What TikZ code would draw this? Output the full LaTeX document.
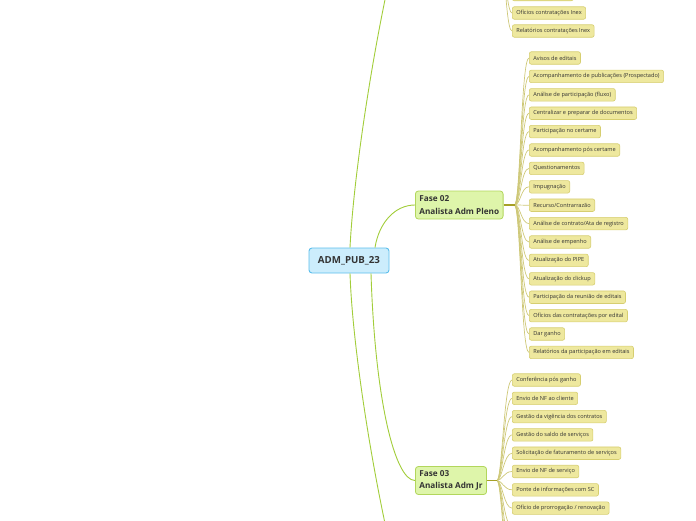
\documentclass[tikz,border=0pt]{standalone}
\usepackage{fontspec}
\setmainfont{Open Sans}
\usetikzlibrary{positioning, calc}

\definecolor{rootfill}{RGB}{204,237,252}
\definecolor{rootline}{RGB}{92,190,236}
\definecolor{fasefill}{RGB}{222,245,170}
\definecolor{faseline}{RGB}{178,214,92}
\definecolor{leaffill}{RGB}{238,232,158}
\definecolor{leafline}{RGB}{214,206,112}
\definecolor{branchcol}{RGB}{162,205,58}
\definecolor{trunkcol}{RGB}{166,160,40}
\definecolor{twigcol}{RGB}{206,200,120}
\definecolor{inkcol}{RGB}{51,51,51}

\begin{document}
\begin{tikzpicture}[x=1pt, y=-1pt, every node/.style={text=inkcol}]
  \tikzset{
    rootbox/.style={draw=rootline, fill=rootfill, line width=0.9pt, rounded corners=3pt,
      minimum width=80pt, minimum height=25pt, font=\fontsize{9.7}{10}\selectfont\bfseries},
    phasebox/.style={draw=faseline, fill=fasefill, line width=0.8pt, rounded corners=3pt,
      align=left, anchor=west, inner xsep=4pt, minimum height=28pt,
      font=\fontsize{8.2}{12.5}\selectfont\bfseries},
    leafbox/.style={draw=leafline, fill=leaffill, line width=0.6pt, rounded corners=2pt,
      anchor=west, inner xsep=4pt, inner ysep=0pt, minimum height=12.5pt,
      font=\fontsize{5.6}{6}\selectfont},
    branch/.style={draw=branchcol, line width=0.9pt},
    trunk/.style={draw=trunkcol, line width=1.6pt},
    twig/.style={draw=twigcol, line width=0.7pt},
  }
  \clip (0,0) rectangle (696,520);

  %% ===== Root and phases =====
  \node[rootbox] (root) at (349,260.5) {ADM\_PUB\_23};
  \node[phasebox] (f02) at (415,205) {Fase 02\\Analista Adm Pleno};
  \node[phasebox] (f03) at (415,480.5) {Fase 03\\Analista Adm Jr};
  % phases 01 and 04 sit outside the window
  \coordinate (f01) at (415,-100);
  \coordinate (f04) at (415,620);

  \draw[branch] ([xshift=1pt]root.north) .. controls +(6,-118) and +(-15,0) .. (f01);
  \draw[branch] ([xshift=26pt]root.north) .. controls +(4,-25) and +(-20,0) .. (f02.west);
  \draw[branch] ([xshift=22pt]root.south) .. controls +(4,127) and +(-20,0) .. (f03.west);
  \draw[branch] ([xshift=1pt]root.south) .. controls +(4,117) and +(-15,0) .. (f04);

  %% ===== Fase 01 (tail of its list) =====
  \coordinate (h01) at (497,-100);
  \node[leafbox, minimum width=61pt] (l1-3) at (512,-5.5) {};
  \node[leafbox] (l1-4) at (512,13) {Ofícios contratações Inex};
  \node[leafbox] (l1-5) at (512,31) {Relatórios contratações Inex};
  \foreach \i in {3,4,5}
    \draw[twig] (h01) .. controls +(6,0) and +(-8,0) .. (l1-\i.west);

  %% ===== Fase 02 =====
  \coordinate (h02) at ([xshift=11pt]f02.east);
  \foreach \i/\t in {1/{Avisos de editais},
      2/{Acompanhamento de publicações (Prospectado)},
      3/{Análise de participação (fluxo)},
      4/{Centralizar e preparar de documentos},
      5/{Participação no certame},
      6/{Acompanhamento pós certame},
      7/{Questionamentos},
      8/{Impugnação},
      9/{Recurso/Contrarrazão},
      10/{Análise de contrato/Ata de registro},
      11/{Análise de empenho},
      12/{Atualização do PIPE},
      13/{Atualização do clickup},
      14/{Participação da reunião de editais},
      15/{Ofícios das contratações por edital},
      16/{Dar ganho},
      17/{Relatórios da participação em editais}} {
    \node[leafbox] (l2-\i) at (529,{58+(\i-1)*18.4}) {\t};
    \draw[twig] (h02) .. controls +(6,0) and +(-8,0) .. (l2-\i.west);
  }
  \draw[trunk] (f02.east) -- (h02);

  %% ===== Fase 03 =====
  \coordinate (h03) at ([xshift=10pt]f03.east);
  \foreach \i/\t in {1/{Conferência pós ganho},
      2/{Envio de NF ao cliente},
      3/{Gestão da vigência dos contratos},
      4/{Gestão do saldo de serviços},
      5/{Solicitação de faturamento de serviços},
      6/{Envio de NF de serviço},
      7/{Ponte de informações com SC},
      8/{Ofício de prorrogação / renovação}} {
    \node[leafbox] (l3-\i) at (512,{380+(\i-1)*18.3}) {\t};
    \draw[twig] (h03) .. controls +(5,0) and +(-8,0) .. (l3-\i.west);
  }
  % the rest of the list runs below the window
  \foreach \i in {9,...,12} {
    \coordinate (l3-\i) at (512,{380+(\i-1)*18.3});
    \draw[twig] (h03) .. controls +(5,0) and +(-8,0) .. (l3-\i);
  }
  \draw[trunk] (f03.east) -- (h03);
\end{tikzpicture}
\end{document}
